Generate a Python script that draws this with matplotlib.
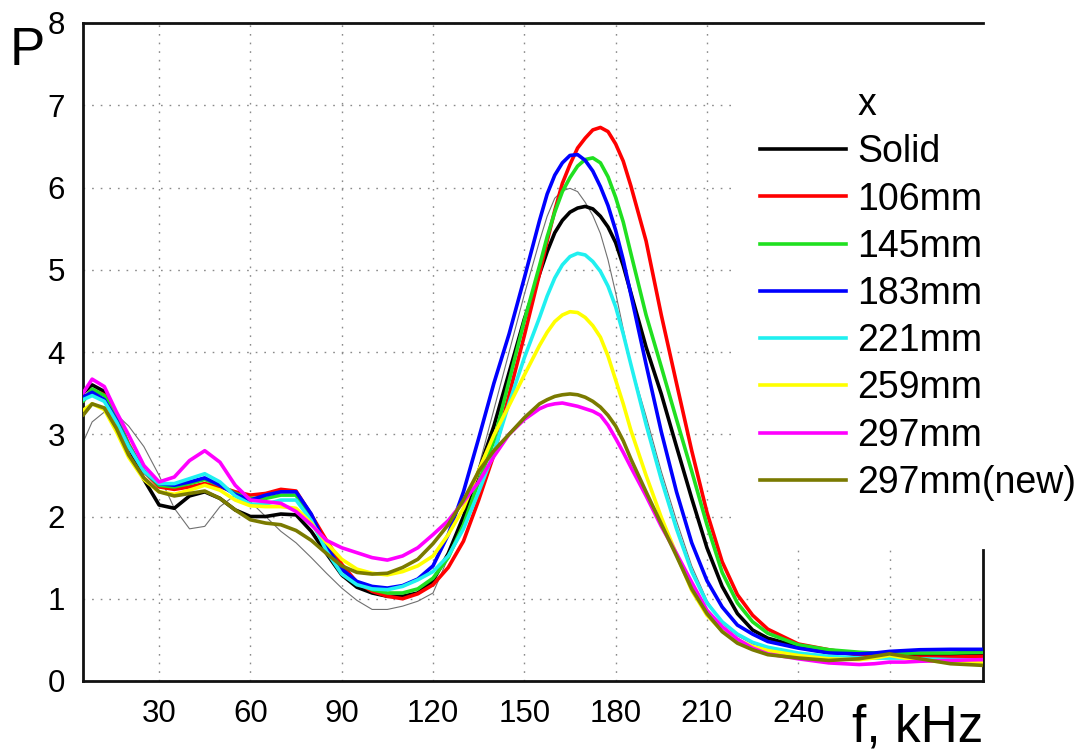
import matplotlib
matplotlib.use("Agg")
import matplotlib.pyplot as plt
from matplotlib.lines import Line2D
from matplotlib.patches import Rectangle

plt.rcParams['font.family'] = ['Liberation Sans', 'DejaVu Sans']

freq = [5, 8, 12, 16, 20,
        25, 30, 35, 40, 45, 50, 55, 60, 65, 70, 75, 80, 85, 90, 95, 100, 105, 110, 115, 120,
        125, 130, 135, 140, 145, 150, 155,
        157.5, 160, 162.5, 165, 167.5, 170, 172.5, 175, 177.5, 180, 182.5,
        185, 190, 195, 200, 205, 210, 215, 220, 225, 230,
        240, 250, 260, 265, 270, 275, 280, 290, 300.7]

reference_thin = [2.90, 3.15, 3.27, 3.24, 3.10,
                  2.85, 2.50, 2.10, 1.85, 1.88, 2.12, 2.26, 2.18, 2.00, 1.82, 1.68, 1.50, 1.31, 1.13, 0.98, 0.87, 0.87, 0.91, 0.97, 1.07,
                  1.50, 2.00, 2.60, 3.30, 4.00, 4.70, 5.35,
                  5.65, 5.87, 5.96, 5.99, 5.95, 5.82, 5.66, 5.44, 5.12, 4.72, 4.28,
                  3.85, 3.22, 2.55, 1.95, 1.40, 0.98, 0.70, 0.55, 0.45, 0.40,
                  0.33, 0.29, 0.27, 0.27, 0.27, 0.27, 0.26, 0.26, 0.25]

solid = [3.50, 3.60, 3.52, 3.22, 2.85,
         2.45, 2.14, 2.10, 2.25, 2.30, 2.22, 2.08, 2.00, 2.00, 2.03, 2.02, 1.82, 1.55, 1.29, 1.14, 1.07, 1.03, 1.03, 1.07, 1.22,
         1.55, 2.00, 2.55, 3.10, 3.75, 4.40, 4.95,
         5.22, 5.45, 5.60, 5.70, 5.75, 5.77, 5.74, 5.65, 5.52, 5.33, 5.05,
         4.72, 4.06, 3.49, 2.85, 2.22, 1.62, 1.15, 0.82, 0.62, 0.52,
         0.42, 0.36, 0.32, 0.31, 0.30, 0.30, 0.31, 0.32, 0.33]

mm106 = [3.40, 3.54, 3.48, 3.22, 2.88,
         2.55, 2.36, 2.33, 2.36, 2.40, 2.36, 2.30, 2.26, 2.28, 2.33, 2.31, 2.02, 1.71, 1.42, 1.20, 1.09, 1.03, 1.00, 1.06, 1.17,
         1.38, 1.70, 2.20, 2.75, 3.48, 4.20, 4.95,
         5.35, 5.72, 6.05, 6.28, 6.48, 6.60, 6.70, 6.73, 6.68, 6.53, 6.32,
         6.02, 5.35, 4.45, 3.62, 2.80, 2.05, 1.45, 1.05, 0.80, 0.63,
         0.45, 0.38, 0.32, 0.30, 0.30, 0.29, 0.29, 0.29, 0.30]

mm145 = [3.40, 3.55, 3.47, 3.20, 2.87,
         2.55, 2.38, 2.36, 2.40, 2.45, 2.38, 2.28, 2.22, 2.22, 2.26, 2.26, 1.95, 1.63, 1.36, 1.20, 1.11, 1.07, 1.07, 1.12, 1.25,
         1.50, 1.90, 2.42, 2.92, 3.65, 4.38, 5.05,
         5.40, 5.70, 5.95, 6.12, 6.26, 6.34, 6.36, 6.30, 6.13, 5.88, 5.58,
         5.20, 4.45, 3.82, 3.18, 2.55, 1.90, 1.32, 0.95, 0.72, 0.58,
         0.44, 0.38, 0.35, 0.34, 0.34, 0.34, 0.34, 0.34, 0.35]

mm183 = [3.45, 3.51, 3.42, 3.17, 2.85,
         2.55, 2.40, 2.38, 2.42, 2.47, 2.38, 2.27, 2.20, 2.26, 2.30, 2.30, 2.03, 1.63, 1.36, 1.21, 1.15, 1.13, 1.16, 1.24, 1.40,
         1.78, 2.30, 2.95, 3.62, 4.22, 4.90, 5.60,
         5.92, 6.15, 6.30, 6.39, 6.40, 6.33, 6.20, 6.01, 5.78, 5.48, 5.12,
         4.70, 3.85, 3.03, 2.30, 1.68, 1.22, 0.90, 0.68, 0.57, 0.48,
         0.40, 0.34, 0.33, 0.34, 0.36, 0.37, 0.38, 0.385, 0.385]

mm221 = [3.42, 3.47, 3.40, 3.15, 2.85,
         2.55, 2.40, 2.40, 2.46, 2.52, 2.42, 2.25, 2.15, 2.15, 2.20, 2.20, 1.95, 1.58, 1.30, 1.17, 1.12, 1.11, 1.15, 1.23, 1.33,
         1.52, 1.85, 2.30, 2.78, 3.38, 3.93, 4.42,
         4.68, 4.90, 5.06, 5.16, 5.20, 5.18, 5.10, 4.98, 4.80, 4.55, 4.22,
         3.85, 3.12, 2.45, 1.85, 1.33, 0.95, 0.72, 0.57, 0.47, 0.41,
         0.34, 0.30, 0.28, 0.28, 0.28, 0.28, 0.27, 0.26, 0.255]

mm259 = [3.29, 3.37, 3.30, 3.03, 2.72,
         2.45, 2.30, 2.27, 2.32, 2.38, 2.32, 2.20, 2.13, 2.12, 2.12, 2.10, 1.92, 1.68, 1.48, 1.36, 1.31, 1.29, 1.33, 1.40, 1.52,
         1.78, 2.10, 2.56, 2.99, 3.35, 3.72, 4.08,
         4.24, 4.37, 4.45, 4.49, 4.48, 4.42, 4.32, 4.18, 3.95, 3.66, 3.37,
         3.05, 2.50, 1.99, 1.54, 1.10, 0.80, 0.61, 0.50, 0.42, 0.37,
         0.31, 0.27, 0.26, 0.28, 0.31, 0.28, 0.25, 0.23, 0.22]

mm297 = [3.50, 3.67, 3.58, 3.27, 2.99,
         2.62, 2.42, 2.48, 2.68, 2.80, 2.66, 2.38, 2.20, 2.18, 2.16, 2.06, 1.90, 1.71, 1.62, 1.56, 1.50, 1.47, 1.52, 1.62, 1.78,
         1.95, 2.18, 2.42, 2.73, 3.00, 3.18, 3.31,
         3.35, 3.37, 3.38, 3.36, 3.34, 3.31, 3.28, 3.23, 3.11, 2.95, 2.78,
         2.60, 2.25, 1.88, 1.55, 1.20, 0.86, 0.66, 0.51, 0.40, 0.33,
         0.27, 0.22, 0.20, 0.21, 0.23, 0.23, 0.24, 0.25, 0.26]

mm297_new = [3.23, 3.37, 3.32, 3.07, 2.75,
             2.47, 2.30, 2.25, 2.28, 2.31, 2.22, 2.08, 1.96, 1.92, 1.90, 1.83, 1.71, 1.55, 1.40, 1.32, 1.30, 1.31, 1.38, 1.48, 1.67,
             1.90, 2.20, 2.55, 2.80, 3.00, 3.20, 3.37,
             3.42, 3.46, 3.48, 3.49, 3.48, 3.45, 3.40, 3.33, 3.23, 3.10, 2.92,
             2.70, 2.30, 1.91, 1.52, 1.12, 0.82, 0.60, 0.46, 0.38, 0.32,
             0.28, 0.25, 0.27, 0.30, 0.33, 0.30, 0.27, 0.21, 0.19]

series_labels = ['Solid', '106mm', '145mm', '183mm', '221mm', '259mm', '297mm', '297mm(new)']
series_values = [solid, mm106, mm145, mm183, mm221, mm259, mm297, mm297_new]
series_colors = ['#000000', '#ff0000', '#20e020', '#0000ff', '#20f0f0', '#ffff00', '#ff00ff', '#7a7a00']

x_ticks = [30, 60, 90, 120, 150, 180, 210, 240, 270]
x_tick_labels = ['30', '60', '90', '120', '150', '180', '210', '240', '']
y_ticks = [0, 1, 2, 3, 4, 5, 6, 7, 8]

W, H = 1087, 751
fig = plt.figure(figsize=(W / 100, H / 100), dpi=100)
ax = fig.add_axes([83 / W, (H - 681) / H, 900 / W, 658 / H])

ax.plot(freq, reference_thin, color='#707070', lw=0.8, zorder=2)
for vals, lab, col in zip(series_values, series_labels, series_colors):
    ax.plot(freq, vals, color=col, lw=2.6, label=lab, zorder=3,
            solid_joinstyle='round', solid_capstyle='round')

ax.set_xlim(5, 300.7)
ax.set_ylim(0, 8)
ax.set_xticks(x_ticks)
ax.set_xticklabels(x_tick_labels)
ax.set_yticks(y_ticks)
ax.tick_params(length=0, labelsize=22.5, pad=13)
ax.set_axisbelow(True)
ax.grid(True, color='#8a8a8a', linestyle=(0, (1.2, 5)), linewidth=1.0)

for s in ax.spines.values():
    s.set_linewidth(2.0)
    s.set_color('#111111')
ax.spines['right'].set_bounds(0, 1.59)

# white area behind legend
ax.add_patch(Rectangle((219.2, 1.59), 120, 6.41, transform=ax.transData,
                       facecolor='white', edgecolor='none', zorder=1, clip_on=False))

handles = [Line2D([], [], color='none')] + [Line2D([], [], color=c, lw=2.6) for c in series_colors]
labels = ['x'] + series_labels
leg = fig.legend(handles, labels, loc='upper left', bbox_to_anchor=(760 / W, (H - 87) / H),
                 frameon=False, fontsize=27, handlelength=2.3, handletextpad=0.3,
                 labelspacing=0.30, borderpad=0, borderaxespad=0)

fig.text(10 / W, (H - 65) / H, 'P', fontsize=38, ha='left', va='baseline')
fig.text(983 / W, (H - 742) / H, 'f, kHz', fontsize=37, ha='right', va='baseline')

fig.savefig('out.png', dpi=100)
